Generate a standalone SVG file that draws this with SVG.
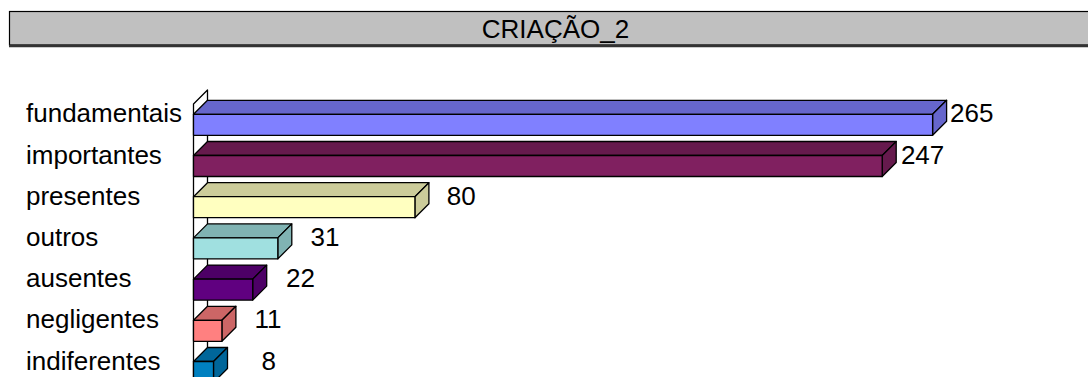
<svg xmlns="http://www.w3.org/2000/svg" width="1088" height="377" viewBox="0 0 1088 377">
<style>
.t{font-family:"Liberation Sans",Arial,sans-serif;font-size:26px;fill:#000}
.e{stroke:#000;stroke-width:1.3;stroke-linejoin:round}
</style>
<rect width="1088" height="377" fill="#fff"/>
<g id="title">
<rect x="9.5" y="11.5" width="1100" height="33.5" fill="#c0c0c0" stroke="#000" stroke-width="1.2"/>
<line x1="9" y1="46" x2="1088" y2="46" stroke="#333" stroke-width="2.4"/>
<text class="t" x="555.5" y="38.3" text-anchor="middle">CRIAÇÃO_2</text>
</g>
<g id="wall">
<polygon class="e" points="193.5,104 207.5,90 207.5,400 193.5,400" fill="#fff" stroke-width="1.6"/>
</g>
<g id="bar-fundamentais">
<polygon class="e" fill="#6666cc" points="193.5,114.3 207.5,100.3 946.6,100.3 932.6,114.3"/>
<polygon class="e" fill="#6666cc" points="932.6,114.3 946.6,100.3 946.6,121.3 932.6,135.3"/>
<rect class="e" fill="#8080ff" x="193.5" y="114.3" width="739.1" height="21"/>
<text class="t" x="26" y="122.3">fundamentais</text>
<text class="t" x="950" y="122.3">265</text>
</g>
<g id="bar-importantes">
<polygon class="e" fill="#661a4d" points="193.5,155.5 207.5,141.5 896.2,141.5 882.2,155.5"/>
<polygon class="e" fill="#661a4d" points="882.2,155.5 896.2,141.5 896.2,162.5 882.2,176.5"/>
<rect class="e" fill="#802060" x="193.5" y="155.5" width="688.7" height="21"/>
<text class="t" x="26" y="163.5">importantes</text>
<text class="t" x="900.9" y="163.5">247</text>
</g>
<g id="bar-presentes">
<polygon class="e" fill="#cccc9a" points="193.5,196.7 207.5,182.7 428.9,182.7 414.9,196.7"/>
<polygon class="e" fill="#cccc9a" points="414.9,196.7 428.9,182.7 428.9,203.7 414.9,217.7"/>
<rect class="e" fill="#ffffc0" x="193.5" y="196.7" width="221.4" height="21"/>
<text class="t" x="26" y="204.7">presentes</text>
<text class="t" x="446.7" y="204.7">80</text>
</g>
<g id="bar-outros">
<polygon class="e" fill="#80b3b3" points="193.5,237.9 207.5,223.9 291.8,223.9 277.8,237.9"/>
<polygon class="e" fill="#80b3b3" points="277.8,237.9 291.8,223.9 291.8,244.9 277.8,258.9"/>
<rect class="e" fill="#a0e0e0" x="193.5" y="237.9" width="84.3" height="21"/>
<text class="t" x="26" y="245.9">outros</text>
<text class="t" x="310.6" y="245.9">31</text>
</g>
<g id="bar-ausentes">
<polygon class="e" fill="#4d0066" points="193.5,279.1 207.5,265.1 266.7,265.1 252.7,279.1"/>
<polygon class="e" fill="#4d0066" points="252.7,279.1 266.7,265.1 266.7,286.1 252.7,300.1"/>
<rect class="e" fill="#600080" x="193.5" y="279.1" width="59.2" height="21"/>
<text class="t" x="26" y="287.1">ausentes</text>
<text class="t" x="286" y="287.1">22</text>
</g>
<g id="bar-negligentes">
<polygon class="e" fill="#cc6666" points="193.5,320.3 207.5,306.3 235.9,306.3 221.9,320.3"/>
<polygon class="e" fill="#cc6666" points="221.9,320.3 235.9,306.3 235.9,327.3 221.9,341.3"/>
<rect class="e" fill="#ff8080" x="193.5" y="320.3" width="28.4" height="21"/>
<text class="t" x="26" y="328.3">negligentes</text>
<text class="t" x="254.5" y="328.3">11</text>
</g>
<g id="bar-indiferentes">
<polygon class="e" fill="#00669a" points="193.5,361.5 207.5,347.5 227.5,347.5 213.5,361.5"/>
<polygon class="e" fill="#00669a" points="213.5,361.5 227.5,347.5 227.5,368.5 213.5,382.5"/>
<rect class="e" fill="#0080c0" x="193.5" y="361.5" width="20" height="21"/>
<text class="t" x="26" y="369.5">indiferentes</text>
<text class="t" x="261.4" y="369.5">8</text>
</g>
</svg>
